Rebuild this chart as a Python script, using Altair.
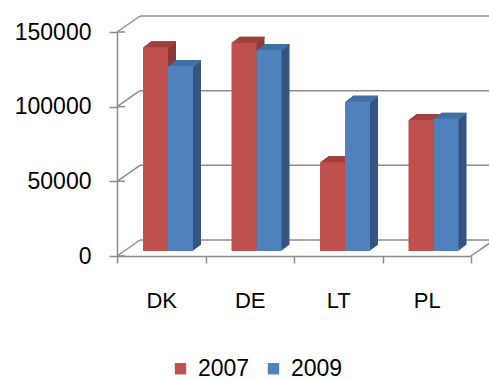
import altair as alt
import pandas as pd

countries = ["DK", "DE", "LT", "PL"]
years = ["2007", "2009"]
v2007 = [136400, 139400, 59400, 87700]
v2009 = [123900, 134600, 100000, 88500]
y_ticks = [0, 50000, 100000, 150000]

front_col = {"2007": "#C0504D", "2009": "#4F81BD"}
side_col = {"2007": "#8C3836", "2009": "#34557F"}
top_col = {"2007": "#A0413E", "2009": "#4170A6"}
x_off = {"2007": -5.75, "2009": 19.25}

rows = []
for yr, vals in zip(years, [v2007, v2009]):
    for c, v in zip(countries, vals):
        rows.append({"country": c, "year": yr, "value": v})
df = pd.DataFrame(rows)
grid = pd.DataFrame({"v": y_ticks})
floor = pd.DataFrame({"v": [0]})

FONT = "Liberation Sans"
GRAY = "#8C8C8C"

x_axis = alt.Axis(title=None, labelAngle=0, labelFontSize=22, labelFont=FONT,
                  labelColor="#000000", tickBand="extent", tickSize=7,
                  tickColor=GRAY, tickWidth=1.5, domainColor=GRAY,
                  domainWidth=1.5, labelPadding=27, grid=False)
y_axis = alt.Axis(title=None, values=y_ticks, format="d", labelFontSize=23,
                  labelFont=FONT, labelColor="#000000", tickSize=8,
                  tickColor=GRAY, tickWidth=1.5, domainColor=GRAY,
                  domainWidth=1.5, labelPadding=18, grid=False)
x_scale = alt.Scale(paddingInner=0, paddingOuter=0)
y_scale = alt.Scale(domain=[0, 150000])


def X():
    return alt.X("country:N", sort=countries, scale=x_scale, axis=x_axis)


def Y(field="value"):
    return alt.Y(f"{field}:Q", scale=y_scale, axis=y_axis)


layers = []
# back wall gridlines
layers.append(alt.Chart(grid).mark_rule(color=GRAY, strokeWidth=1.5, yOffset=-16).encode(
    x=alt.value(23), x2=alt.value(372), y=Y("v")))
# side wall diagonals
layers.append(alt.Chart(grid).mark_rule(color=GRAY, strokeWidth=1.5, y2Offset=-16).encode(
    x=alt.value(0), x2=alt.value(23), y=Y("v"), y2="v:Q"))
# tick stubs crossing to the inside of the axis
layers.append(alt.Chart(grid).mark_rule(color=GRAY, strokeWidth=1.5).encode(
    x=alt.value(0), x2=alt.value(8), y=Y("v")))
# floor right diagonal
layers.append(alt.Chart(floor).mark_rule(color=GRAY, strokeWidth=1.5, y2Offset=-16).encode(
    x=alt.value(354), x2=alt.value(377), y=Y("v"), y2="v:Q"))

legend = alt.Legend(orient="none", legendX=52, legendY=325,
                    direction="horizontal", title=None,
                    symbolType="square", symbolSize=130,
                    symbolStrokeWidth=0, labelFontSize=23,
                    labelFont=FONT, labelColor="#000000",
                    labelOffset=6, columnPadding=12, padding=0)

for yr in years:
    base = alt.Chart(df).transform_filter(alt.datum.year == yr)
    for i in range(8, 0, -1):
        layers.append(base.mark_bar(width=25, color=side_col[yr], xOffset=x_off[yr] + i,
                                    yOffset=-5 - 0.75 * i, y2Offset=-5 - 0.75 * i).encode(
            x=X(), y=Y()))
    for i in range(1, 9):
        layers.append(base.mark_bar(width=25, color=top_col[yr], xOffset=x_off[yr] + i,
                                    yOffset=-5 - 0.75 * i, y2Offset=-5 - 0.75 * i + 1.5).encode(
            x=X(), y=Y(), y2="value:Q"))
    layers.append(base.mark_bar(width=25, xOffset=x_off[yr], yOffset=-5, y2Offset=-5).encode(
        x=X(), y=Y(),
        color=alt.Color("year:N", scale=alt.Scale(domain=years, range=[front_col[y] for y in years]),
                        legend=legend)))

chart = alt.layer(*layers).properties(
    width=354, height=224,
    padding={"left": 117, "top": 32, "right": 18, "bottom": 124},
    autosize="none", background="white"
).configure_view(stroke=None)

chart.save("out.html", embed_options={"renderer": "svg", "actions": False})
